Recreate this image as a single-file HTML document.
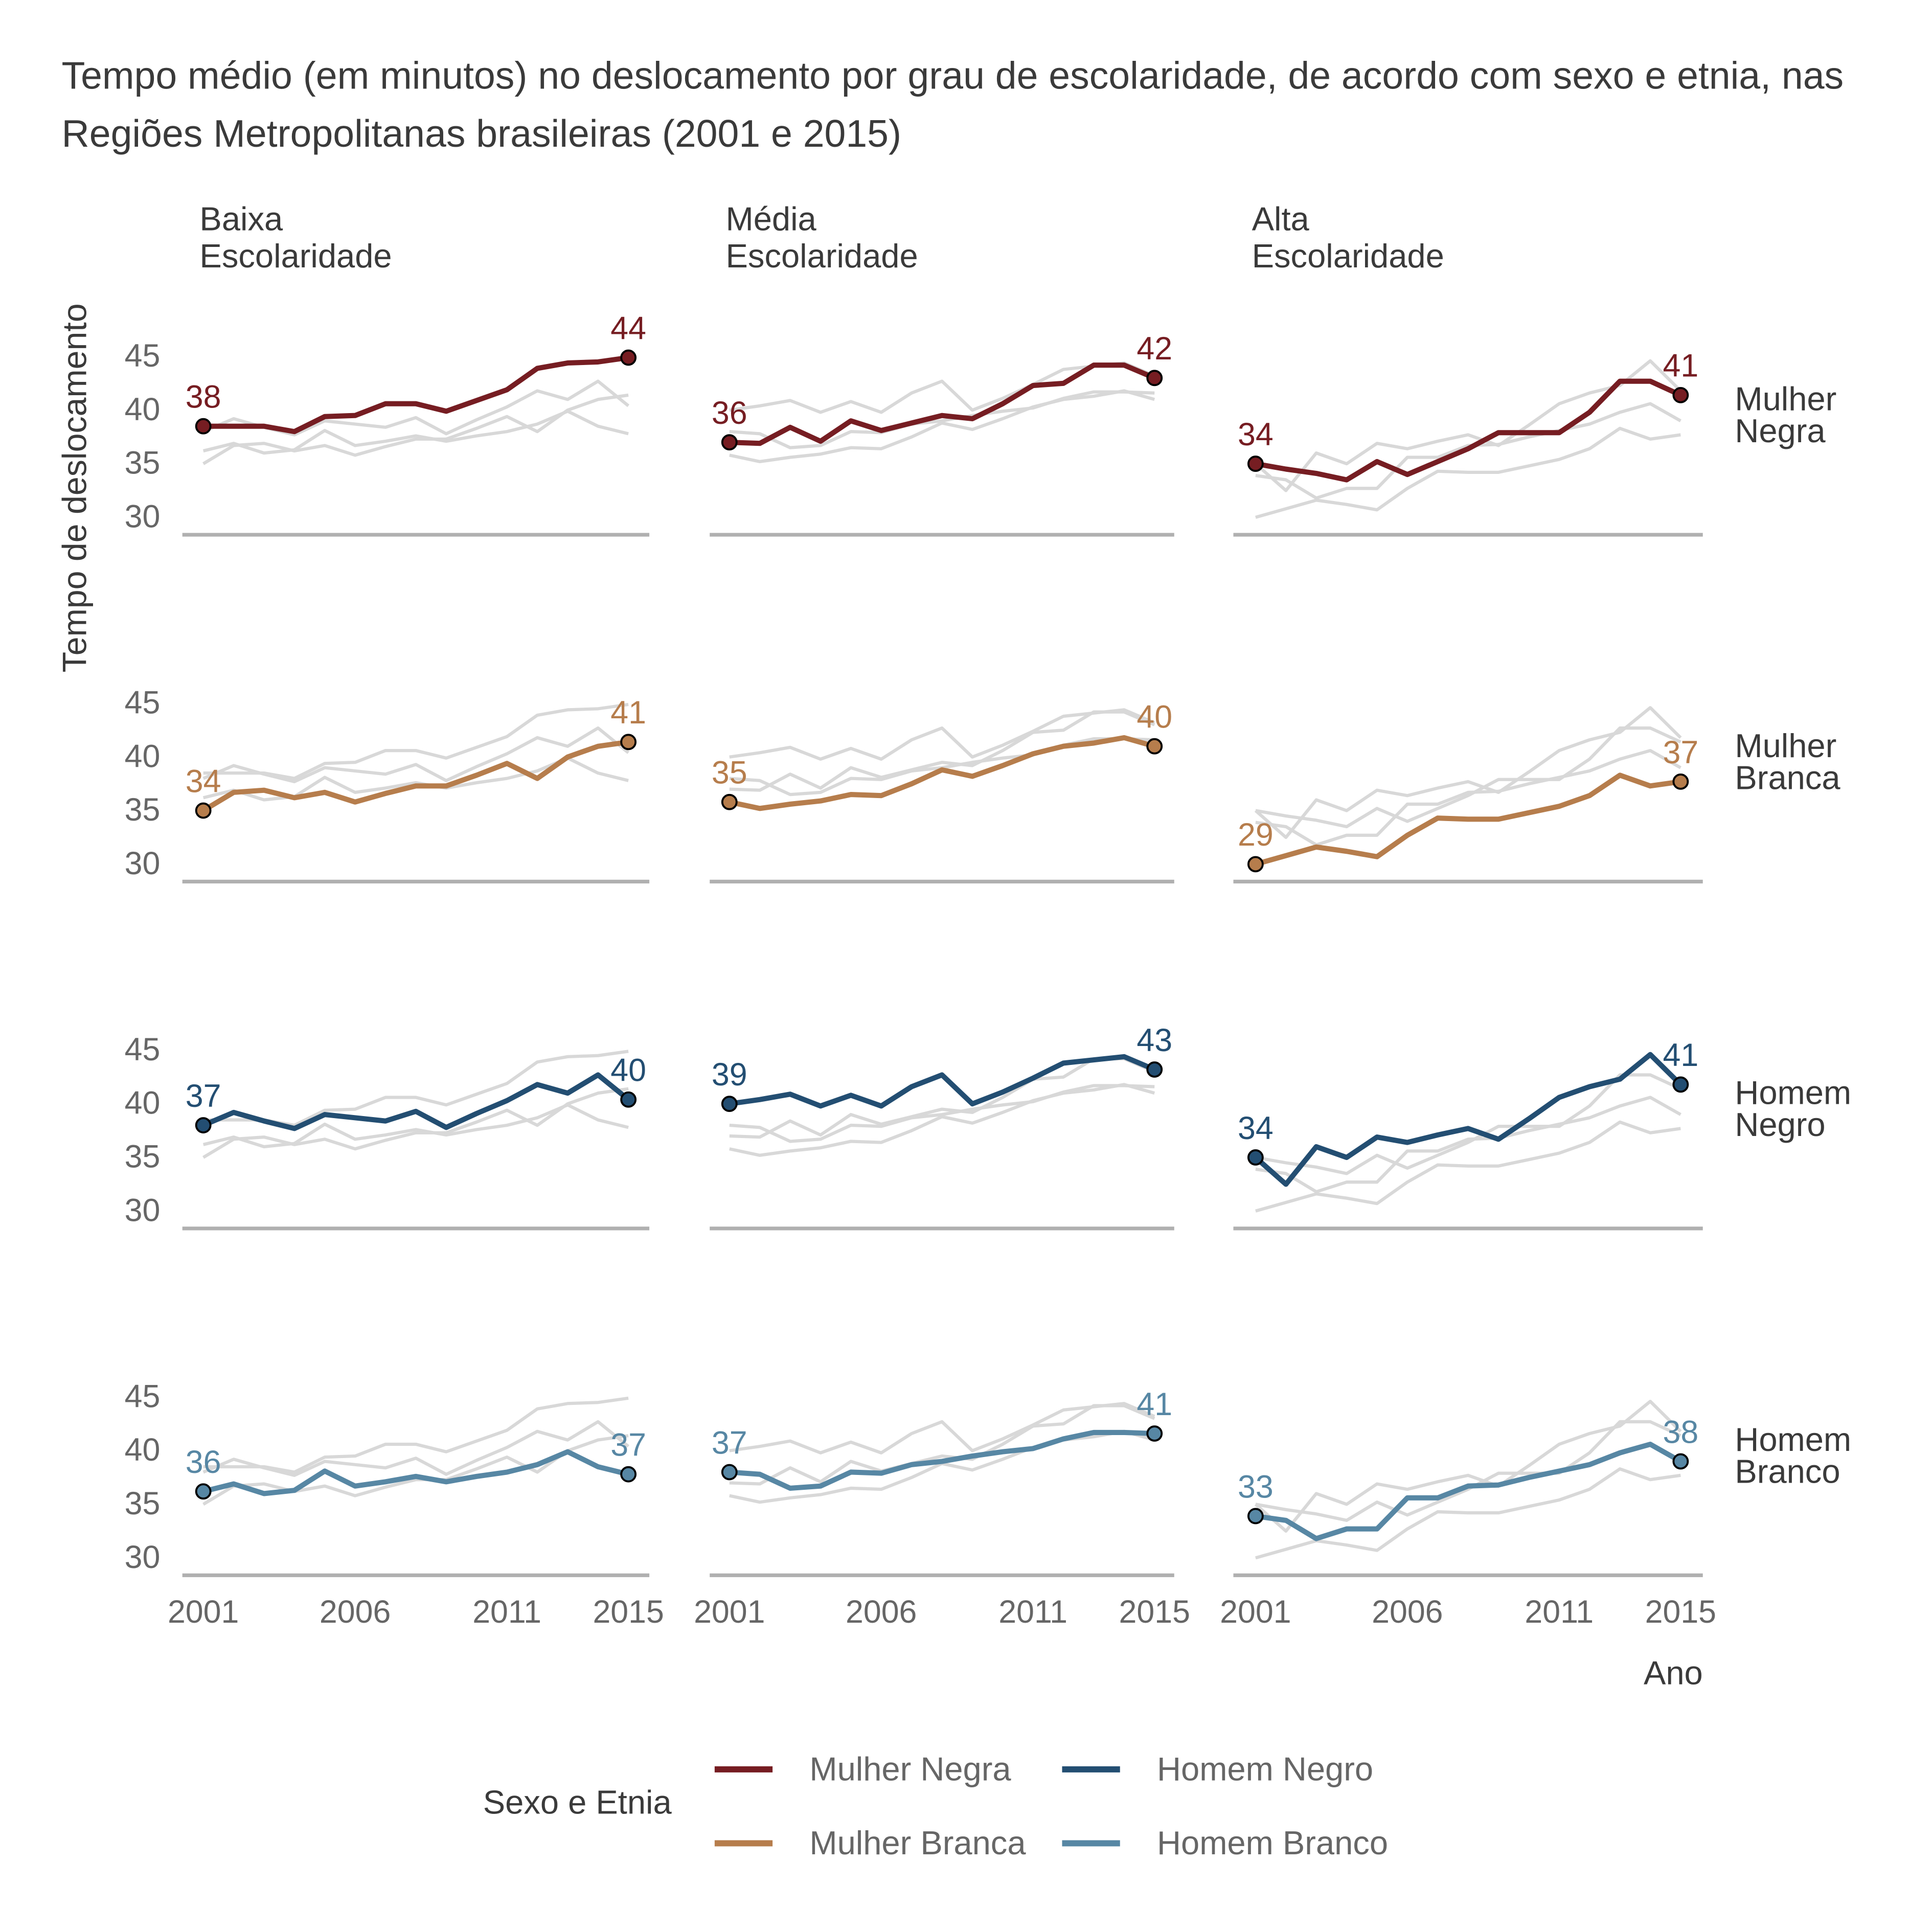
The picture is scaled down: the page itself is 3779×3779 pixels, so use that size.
<!DOCTYPE html>
<html><head><meta charset="utf-8"><style>
html,body{margin:0;padding:0;background:#fff}
svg{display:block;font-family:"Liberation Sans",Helvetica,Arial,sans-serif}
</style></head><body>
<svg id="chart" width="3779" height="3779" viewBox="0 0 1568 1568" xmlns="http://www.w3.org/2000/svg">
<text x="50" y="72" font-size="31.2" fill="#3a3a3a">Tempo médio (em minutos) no deslocamento por grau de escolaridade, de acordo com sexo e etnia, nas</text>
<text x="50" y="119" font-size="31.2" fill="#3a3a3a">Regiões Metropolitanas brasileiras (2001 e 2015)</text>
<text transform="translate(70,396) rotate(-90)" text-anchor="middle" font-size="27.5" fill="#3a3a3a">Tempo de deslocamento</text>
<text x="1382" y="1367" text-anchor="end" font-size="27" fill="#3a3a3a">Ano</text>
<g id="panels"></g>
<g id="legend">
<text x="392" y="1472" font-size="27" fill="#3a3a3a">Sexo e Etnia</text>
</g>
</svg>
<script>
const years = [2001,2002,2003,2004,2005,2006,2007,2008,2009,2010,2011,2012,2013,2014,2015];
const educationLevels = ["Baixa\nEscolaridade","Média\nEscolaridade","Alta\nEscolaridade"];
const groups = ["Mulher Negra","Mulher Branca","Homem Negro","Homem Branco"];
const yTicks = [30,35,40,45];
const xTicks = [2001,2006,2011,2015];
const mulherNegra = [
 [38.4,38.4,38.4,37.9,39.3,39.4,40.5,40.5,39.8,40.8,41.8,43.8,44.3,44.4,44.8],
 [36.9,36.8,38.3,37.0,38.9,38.0,38.7,39.4,39.1,40.5,42.2,42.4,44.1,44.1,42.9],
 [34.9,34.4,34.0,33.4,35.1,33.9,35.1,36.3,37.8,37.8,37.8,39.7,42.6,42.6,41.3]];
const mulherBranca = [
 [34.9,36.6,36.8,36.1,36.6,35.7,36.5,37.2,37.2,38.2,39.3,37.9,39.9,40.9,41.3],
 [35.7,35.1,35.5,35.8,36.4,36.3,37.4,38.7,38.1,39.1,40.2,40.9,41.2,41.7,40.9],
 [29.9,30.7,31.5,31.1,30.6,32.6,34.2,34.1,34.1,34.7,35.3,36.3,38.2,37.2,37.6]];
const homemNegro = [
 [37.9,39.1,38.3,37.6,38.9,38.6,38.3,39.2,37.7,39.0,40.2,41.7,40.9,42.6,40.3],
 [39.9,40.3,40.8,39.7,40.7,39.7,41.5,42.6,39.9,41.0,42.3,43.7,44.0,44.3,43.1],
 [34.9,32.4,35.9,34.9,36.8,36.3,37.0,37.6,36.6,38.5,40.5,41.5,42.2,44.5,41.7]];
const homemBranco = [
 [36.1,36.8,35.9,36.2,38.0,36.6,37.0,37.5,37.0,37.5,37.9,38.6,39.8,38.4,37.7],
 [37.9,37.7,36.4,36.6,37.9,37.8,38.6,38.9,39.4,39.8,40.1,41.0,41.6,41.6,41.5],
 [33.8,33.4,31.7,32.6,32.6,35.5,35.5,36.6,36.7,37.4,38.0,38.6,39.7,40.5,38.9]];
const seriesValues = [mulherNegra, mulherBranca, homemNegro, homemBranco];
const colors = ["#761d22","#b67d4c","#234e72","#5787a4"];
const rowLabels = [["Mulher","Negra"],["Mulher","Branca"],["Homem","Negro"],["Homem","Branco"]];

const NS="http://www.w3.org/2000/svg";
const colX0=[165,592,1019], colAxis=[[148,527],[576,953],[1001,1382]];
const pxPerYear=345/14, pxPerUnit=8.7, rowStep=281.5;
function xs(c,yr){return colX0[c]+(yr-2001)*pxPerYear;}
function ys(r,v){return 419+r*rowStep-(v-30)*pxPerUnit;}
function mk(tag,attrs,parent){const e=document.createElementNS(NS,tag);for(const k in attrs)e.setAttribute(k,attrs[k]);parent.appendChild(e);return e;}
const P=document.getElementById('panels');

educationLevels.forEach((lab,c)=>{
  const t=mk('text',{x:colX0[c]-3,y:187,'font-size':27,fill:'#3a3a3a'},P);
  
  
  lab.split('\n').forEach((p,i)=>{const s=mk('tspan',{x:colX0[c]-3,dy:i?30:0},t);s.textContent=p;});
});

groups.forEach((g,r)=>{
  const rl=mk('text',{x:1408,y:333+r*rowStep,'font-size':27,fill:'#3a3a3a'},P);
  
  
  rowLabels[r].forEach((p,i)=>{const s=mk('tspan',{x:1408,dy:i?26:0},rl);s.textContent=p;});
  yTicks.forEach(v=>{
    const t=mk('text',{x:130,y:ys(r,v)+9,'text-anchor':'end','font-size':26,fill:'#666'},P);
    
    
    t.textContent=v;
  });
  educationLevels.forEach((e,c)=>{
    const gp=mk('g',{},P);
    
    
    const ax=mk('line',{x1:colAxis[c][0],x2:colAxis[c][1],y1:434+r*rowStep,y2:434+r*rowStep,stroke:'#b0b0b0','stroke-width':3},gp);
    
    
    seriesValues.forEach((sv,k)=>{
      if(k===r)return;
      const pts=sv[c].map((v,i)=>xs(c,years[i])+','+ys(r,v)).join(' ');
      const pl=mk('polyline',{points:pts,fill:'none',stroke:'#d8d8d8','stroke-width':2.6,'stroke-linejoin':'round'},gp);
      
      
    });
    const vals=seriesValues[r][c];
    const pts=vals.map((v,i)=>xs(c,years[i])+','+ys(r,v)).join(' ');
    const pl=mk('polyline',{points:pts,fill:'none',stroke:colors[r],'stroke-width':4.2,'stroke-linejoin':'round'},gp);
    
    
    [0,vals.length-1].forEach(i=>{
      const cx=xs(c,years[i]), cy=ys(r,vals[i]);
      const ci=mk('circle',{cx:cx,cy:cy,r:5.8,fill:colors[r],stroke:'#000','stroke-width':1.6},gp);
      
      
      const tl=mk('text',{x:cx,y:cy-15,'text-anchor':'middle','font-size':26,fill:colors[r]},gp);
      
      
      tl.textContent=Math.floor(vals[i]);
    });
  });
});
educationLevels.forEach((e,c)=>{
  xTicks.forEach(yr=>{
    const t=mk('text',{x:xs(c,yr),y:1317,'text-anchor':'middle','font-size':26,fill:'#666'},P);
    
    
    t.textContent=yr;
  });
});
const L=document.getElementById('legend');
const legPos=[[580,1436],[580,1496],[862,1436],[862,1496]];
groups.forEach((g,k)=>{
  const [x,y]=legPos[k];
  const gi=mk('g',{},L);
  
  
  mk('line',{x1:x,x2:x+47,y1:y,y2:y,stroke:colors[k],'stroke-width':5},gi);
  const t=mk('text',{x:x+77,y:y+9,'font-size':27,fill:'#666'},gi);
  t.textContent=g;
});
</script>
</body></html>
